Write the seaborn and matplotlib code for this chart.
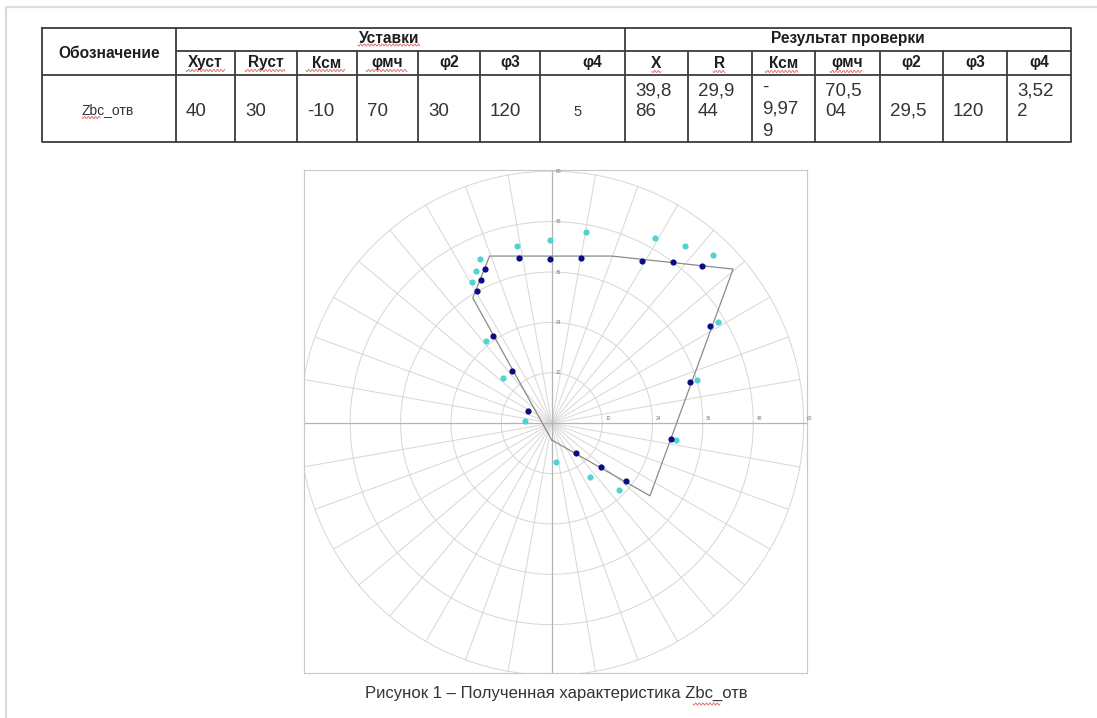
import numpy as np
import seaborn as sns
import matplotlib.pyplot as plt

# ---- table content ----
name_col = "Обозначение"
row_name = "Zbc_отв"
group_heads = ["Уставки", "Результат проверки"]
set_heads = ["Хуст", "Rуст", "Ксм", "φмч", "φ2", "φ3", "φ4"]
res_heads = ["X", "R", "Ксм", "φмч", "φ2", "φ3", "φ4"]
set_vals = ["40", "30", "-10", "70", "30", "120", "5"]
res_vals = ["39,8\n86", "29,9\n44", "-\n9,97\n9", "70,5\n04", "29,5", "120", "3,52\n2"]
caption = "Рисунок 1 – Полученная характеристика Zbc_отв"

# ---- chart data (R, X) ----
poly_r = [0.0, -18.8, -14.8, 14.3, 43.2, 23.4, 0.0]
poly_x = [-4.0, 29.8, 39.8, 39.8, 36.7, -17.3, -4.0]

dark_r = [-7.7, -0.3, 7.0, 21.5, 28.8, 35.9, -16.0, -16.9, -17.9, -14.1, -9.4, -5.6,
          37.7, 32.9, 28.3, 5.9, 11.8, 17.6]
dark_x = [39.4, 39.2, 39.4, 38.7, 38.3, 37.5, 36.7, 34.2, 31.6, 20.8, 12.5, 2.9,
          23.1, 9.7, -3.8, -7.1, -10.5, -13.8]
cyan_r = [-8.2, -0.3, 8.1, 24.6, 31.8, 38.3, -17.1, -18.0, -19.1, -15.6, -11.6, -6.3,
          39.6, 34.5, 29.5, 1.0, 9.2, 16.0]
cyan_x = [42.3, 43.7, 45.6, 44.1, 42.3, 40.0, 39.1, 36.3, 33.6, 19.5, 10.7, 0.5,
          24.1, 10.3, -4.1, -9.2, -12.9, -15.8]

rings = [12, 24, 36, 48, 60]

sns.set_style("white")
plt.rcParams['font.family'] = ['Liberation Sans', 'DejaVu Sans']

W, H = 1097, 718
fig = plt.figure(figsize=(W / 100, H / 100), dpi=100)
fig.patch.set_facecolor("white")

# page/table layer in pixel coordinates
bg = fig.add_axes([0, 0, 1, 1])
bg.set_xlim(0, W)
bg.set_ylim(H, 0)
bg.axis("off")

# page border
bg.plot([6, 6, W], [H, 7, 7], color="#dcdcdc", lw=1.6)

col_edges = [42, 176, 235, 297, 357, 418, 480, 540, 625, 688, 752, 815, 880, 943, 1007, 1071]
top, mid1, mid2, bot = 27.5, 50.7, 74.5, 142
tc = "#3c3c3c"
tlw = 1.3
L, R = col_edges[0], col_edges[-1]
bg.plot([L, R, R, L, L], [top, top, bot, bot, top], color=tc, lw=tlw)
bg.plot([col_edges[1], R], [mid1, mid1], color=tc, lw=tlw)
bg.plot([L, R], [mid2, mid2], color=tc, lw=tlw)
for xe in col_edges[1:-1]:
    y0 = top if xe in (176, 625) else mid1
    bg.plot([xe, xe], [y0, bot], color=tc, lw=tlw)

hdr = dict(fontsize=11.2, fontweight="bold", color="#1e1e1e", ha="center", va="baseline")
bg.text(109, 58, name_col, **hdr)
bg.text(389, 43, group_heads[0], **hdr)
bg.text(848, 43, group_heads[1], **hdr)

heads = set_heads + res_heads
centers = [(col_edges[i] + col_edges[i + 1]) / 2 for i in range(1, len(col_edges) - 1)]
centers[6] = 592
for cx, h in zip(centers, heads):
    bg.text(cx, 67.5, h, **hdr)

bg.text(108, 114.5, row_name, fontsize=10, color="#333333", ha="center", va="baseline")

baselines = {1: [116], 2: [95, 116.5], 3: [91.5, 114, 136.5]}
vals = set_vals + res_vals
for i, v in enumerate(vals):
    x0 = col_edges[i + 1] + 10
    lines = v.split("\n")
    if i == 6:
        bg.text(573, 115.7, v, fontsize=10.5, color="#333333", ha="left", va="baseline")
        continue
    for ln, yb in zip(lines, baselines[len(lines)]):
        bg.text(x0, yb, ln, fontsize=13.5, color="#333333", ha="left", va="baseline")

bg.text(556.7, 697.5, caption, fontsize=12, color="#333333", ha="center", va="baseline")


def squiggle(x0, x1, y):
    xs = np.linspace(x0, x1, int((x1 - x0) * 2) + 2)
    ys = y + 1.1 * np.sin((xs - x0) / 1.8 * np.pi)
    bg.plot(xs, ys, color="#e06060", lw=0.6)


for a, b, y in [(358, 420, 45), (186, 225, 70.5), (245, 285, 70.5), (306, 345, 70.5),
                (366, 407, 70.5), (652, 661, 71.5), (713, 725, 71.5), (765, 798, 71.5),
                (830, 862, 71.5), (82, 100, 117.5), (693, 720, 704)]:
    squiggle(a, b, y)

# ---- chart ----
ax = fig.add_axes([304 / W, (H - 673) / H, 503 / W, 503 / H])
ax.set_facecolor("white")
ax.set_xlim(-59.0, 60.8)
ax.set_ylim(-59.5, 60.3)

t = np.linspace(0, 2 * np.pi, 400)
for r in rings:
    ax.plot(r * np.cos(t), r * np.sin(t), color="#d6d6d6", lw=0.7, zorder=1)
for ang in range(0, 360, 10):
    a = np.deg2rad(ang)
    ax.plot([0, 60 * np.cos(a)], [0, 60 * np.sin(a)], color="#d6d6d6", lw=0.7, zorder=1)
ax.axhline(0, color="#b4b4b4", lw=0.9, zorder=2)
ax.axvline(0, color="#b4b4b4", lw=0.9, zorder=2)

for r in rings:
    ax.text(1.0, r, str(r), fontsize=3.5, color="#777777", ha="left", va="center", zorder=3)
    ax.text(r + 0.8, 0.6, str(r), fontsize=3.5, color="#777777", ha="left", va="bottom", zorder=3)

sns.lineplot(x=poly_r, y=poly_x, sort=False, estimator=None, color="#8a8a8a", lw=0.9,
             ax=ax, zorder=3)
sns.scatterplot(x=cyan_r, y=cyan_x, color="#52d3d3", s=20, linewidth=0, ax=ax, zorder=4)
sns.scatterplot(x=dark_r, y=dark_x, color="#0c0c82", s=20, linewidth=0, ax=ax, zorder=5)

ax.set_xticks([])
ax.set_yticks([])
ax.set_xlabel("")
ax.set_ylabel("")
for s in ax.spines.values():
    s.set_visible(True)
    s.set_color("#c8c8c8")
    s.set_linewidth(0.8)

fig.savefig("out.png", dpi=100, facecolor="white")
